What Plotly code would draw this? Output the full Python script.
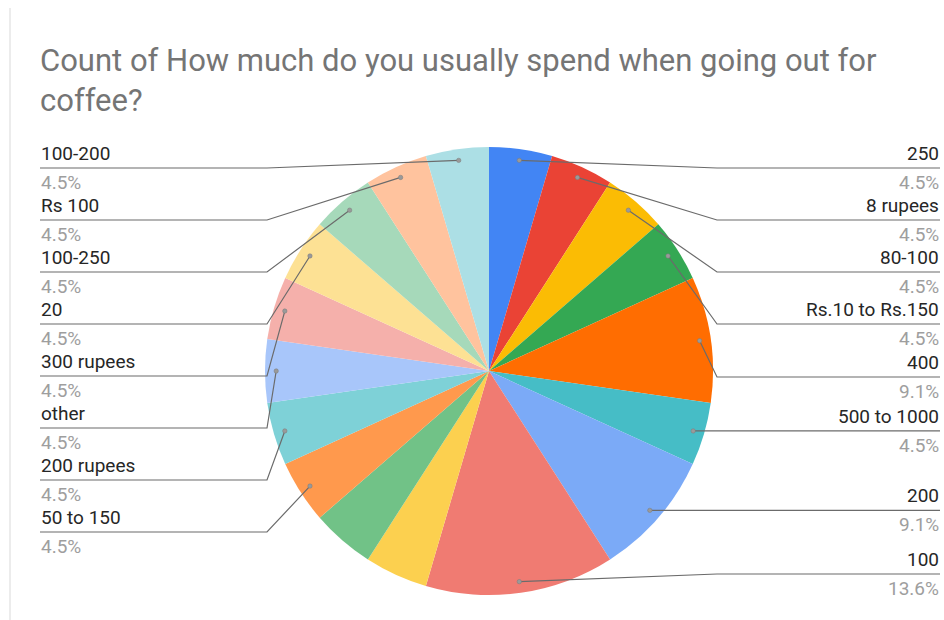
import math
import plotly.graph_objects as go

# Survey answers (clockwise from 12 o'clock) and their response counts
categories = [
    "250", "8 rupees", "80-100", "Rs.10 to Rs.150", "400", "500 to 1000",
    "200", "100", "150", "Rs 50", "50 to 150", "200 rupees", "other",
    "300 rupees", "20", "100-250", "Rs 100", "100-200",
]
counts = [1, 1, 1, 1, 2, 1, 2, 3, 1, 1, 1, 1, 1, 1, 1, 1, 1, 1]
colors = [
    "#4285F4", "#EA4335", "#FBBC04", "#34A853", "#FF6D01", "#46BDC6",
    "#7BAAF7", "#F07B72", "#FCD04F", "#71C287", "#FF994D", "#7ED1D7",
    "#A8C6FA", "#F5B0AB", "#FDE194", "#A6D9BA", "#FFC39E", "#ACDFE5",
]
# Slices whose callouts are placed on the right / left side (top to bottom)
right_side = ["250", "8 rupees", "80-100", "Rs.10 to Rs.150", "400",
              "500 to 1000", "200", "100"]
left_side = ["100-200", "Rs 100", "100-250", "20", "300 rupees", "other",
             "200 rupees", "50 to 150"]

W, H = 944, 620
CX, CY, R = 489, 371, 224          # pie centre and radius in pixels
right_slots = [168, 220, 272, 324, 377, None, None, 574]   # None: level with anchor
left_slots = [168, 220, 272, 324, 376, 428, 480, 532]
RIGHT_ELBOW, RIGHT_END = 717, 940
LEFT_ELBOW, LEFT_END = 267, 40

TEXT_DARK = "#262626"
TEXT_PCT = "#9E9E9E"
LINE_COL = "#6B6B6B"
FONT = "Roboto"
LABEL_SIZE = 19


def px(x):
    return x / W


def py(y):
    return 1 - y / H


total = sum(counts)
mid_angle = {}
acc = 0
for c, v in zip(categories, counts):
    mid_angle[c] = (acc + v / 2) / total * 2 * math.pi
    acc += v
pct = {c: f"{v / total * 100:.1f}%" for c, v in zip(categories, counts)}

fig = go.Figure(go.Pie(
    labels=categories,
    values=counts,
    sort=False,
    direction="clockwise",
    rotation=0,
    marker=dict(colors=colors, line=dict(width=0)),
    textinfo="none",
    hoverinfo="label+value+percent",
    domain=dict(x=[px(CX - R), px(CX + R)], y=[py(CY + R), py(CY - R)]),
    showlegend=False,
))

shapes = []
annotations = []


def anchor(cat):
    a = mid_angle[cat]
    rho = 0.95 * R
    return CX + rho * math.sin(a), CY - rho * math.cos(a)


def callout(cat, slot, side):
    ax, ay = anchor(cat)
    ly = ay if slot is None else slot
    elbow, end = (RIGHT_ELBOW, RIGHT_END) if side == "right" else (LEFT_ELBOW, LEFT_END)
    path = f"M {px(ax)} {py(ay)} L {px(elbow)} {py(ly)} L {px(end)} {py(ly)}"
    shapes.append(dict(type="path", xref="paper", yref="paper", path=path,
                       line=dict(color=LINE_COL, width=1.2)))
    d = 2.2
    shapes.append(dict(type="circle", xref="paper", yref="paper",
                       x0=px(ax - d), x1=px(ax + d), y0=py(ay + d), y1=py(ay - d),
                       fillcolor="#9A9A9A", line=dict(color="#7A7A7A", width=0.5)))
    tx = 941 if side == "right" else 39
    xa = "right" if side == "right" else "left"
    annotations.append(dict(xref="paper", yref="paper", x=px(tx), y=py(ly - 1),
                            xanchor=xa, yanchor="bottom", showarrow=False,
                            text=cat, font=dict(family=FONT, size=LABEL_SIZE, color=TEXT_DARK)))
    annotations.append(dict(xref="paper", yref="paper", x=px(tx), y=py(ly + 1),
                            xanchor=xa, yanchor="top", showarrow=False,
                            text=pct[cat], font=dict(family=FONT, size=LABEL_SIZE, color=TEXT_PCT)))


for cat, slot in zip(right_side, right_slots):
    callout(cat, slot, "right")
for cat, slot in zip(left_side, left_slots):
    callout(cat, slot, "left")

# thin frame line down the left edge
shapes.append(dict(type="line", xref="paper", yref="paper",
                   x0=px(10), x1=px(10), y0=py(8), y1=0,
                   line=dict(color="#E6E6E6", width=1.5)))

annotations.append(dict(
    xref="paper", yref="paper", x=px(38), y=py(40), xanchor="left", yanchor="top",
    align="left", showarrow=False,
    text="Count of How much do you usually spend when going out for<br>coffee?",
    font=dict(family=FONT, size=31, color="#757575"),
))

fig.update_layout(
    width=W, height=H,
    margin=dict(l=0, r=0, t=0, b=0),
    paper_bgcolor="white",
    plot_bgcolor="white",
    shapes=shapes,
    annotations=annotations,
)

fig.write_html("out.html")
